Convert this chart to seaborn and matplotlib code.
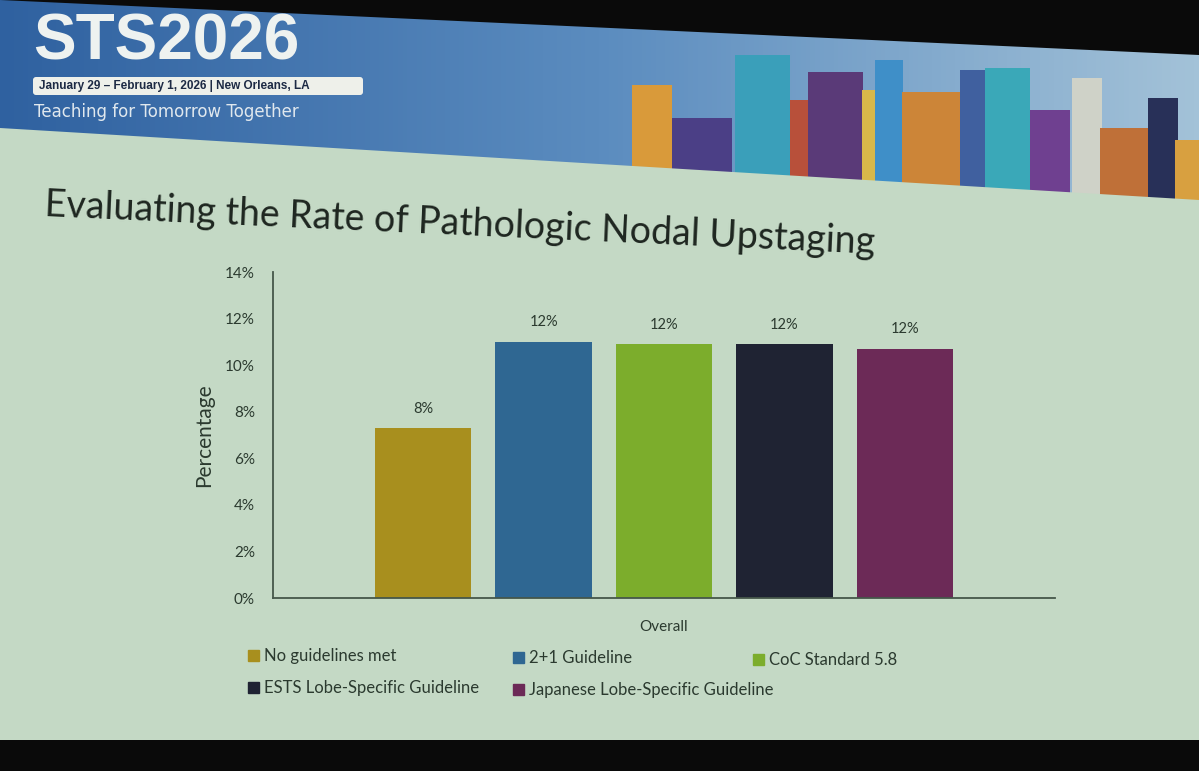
import matplotlib
matplotlib.use("Agg")
import matplotlib.pyplot as plt
import matplotlib.patches as mpatches
from matplotlib.colors import LinearSegmentedColormap
import seaborn as sns
import pandas as pd
import numpy as np

# ---- chart data ----
group = ["Overall"]
guidelines = ["No guidelines met", "2+1 Guideline", "CoC Standard 5.8",
              "ESTS Lobe-Specific Guideline", "Japanese Lobe-Specific Guideline"]
upstaging_pct = [7.3, 11.0, 10.9, 10.9, 10.7]
value_labels = ["8%", "12%", "12%", "12%", "12%"]
y_ticks = [0, 2, 4, 6, 8, 10, 12, 14]

bar_colors = ["#a88f1e", "#2f6792", "#7cad2c", "#1f2333", "#6c2a57"]
SLIDE = "#c4d9c5"
INK = "#2b3a2f"
AXIS = "#45574a"

W, H = 1199, 771


def fx(x):
    return x / W


def fy(y):
    return 1 - y / H


sns.set_theme(style="white")
plt.rcParams["font.family"] = ["Lato", "DejaVu Sans"]

fig = plt.figure(figsize=(W / 100, H / 100), dpi=100, facecolor=SLIDE)

# ---- conference banner ----
BH = 205
bax = fig.add_axes([0, fy(BH), 1, BH / H])
bax.set_xlim(0, W)
bax.set_ylim(BH, 0)
bax.axis("off")
cmap = LinearSegmentedColormap.from_list("banner", ["#2f61a0", "#5b8cbf", "#a3c2d8"])
bax.imshow(np.linspace(0, 1, 256).reshape(1, -1), extent=[0, W, BH, 0],
           aspect="auto", cmap=cmap, zorder=0)

# stylised skyline
buildings = [
    (632, 40, 85, "#d99a3a"), (672, 60, 118, "#4b3f86"), (735, 55, 55, "#3a9fba"),
    (790, 30, 100, "#b8503a"), (808, 55, 72, "#5a3a78"), (862, 40, 90, "#d8b84a"),
    (875, 28, 60, "#3f8fc8"), (902, 58, 92, "#cc8538"), (960, 25, 70, "#40609f"),
    (985, 45, 68, "#3aa8b8"), (1030, 40, 110, "#6f4090"), (1072, 30, 78, "#cfd2c8"),
    (1100, 60, 128, "#bf7038"), (1148, 30, 98, "#283058"), (1175, 24, 140, "#d8a040"),
]
for bx, bw, btop, bc in buildings:
    bax.add_patch(mpatches.Rectangle((bx, btop), bw, BH - btop, fc=bc, ec="none", zorder=1))

# slide below the tilted banner edge, black above the screen edge
bax.add_patch(mpatches.Polygon([(0, 128), (W, 200), (W, BH), (0, BH)],
                               fc=SLIDE, ec="none", zorder=2))
bax.add_patch(mpatches.Polygon([(0, 0), (W, 0), (W, 55)], fc="#0a0a0a", ec="none", zorder=3))

bax.text(33, 42, "STS2026", fontsize=46, fontweight="bold", color="#eef2f0",
         family="Liberation Sans", va="center", zorder=4)
bax.add_patch(mpatches.FancyBboxPatch((33, 77), 330, 18,
                                      boxstyle="round,pad=0,rounding_size=3",
                                      fc="#eef0ea", ec="none", zorder=4))
bax.text(39, 86, "January 29 – February 1, 2026 | New Orleans, LA", fontsize=8.5,
         fontweight="bold", color="#1d2a44", va="center", family="Liberation Sans", zorder=5)
bax.text(34, 112, "Teaching for Tomorrow Together", fontsize=12, color="#e0e8ee",
         va="center", family="DejaVu Sans", zorder=4)

# ---- slide title ----
fig.text(fx(45), fy(205), "Evaluating the Rate of Pathologic Nodal Upstaging",
         fontsize=27, color="#1e2620", rotation=-2.6, rotation_mode="anchor",
         ha="left", va="center")

# ---- bar chart ----
ax = fig.add_axes([fx(273), fy(598), fx(1055) - fx(273), (598 - 272) / H])
ax.set_facecolor(SLIDE)

df = pd.DataFrame({
    "group": group * len(guidelines),
    "guideline": guidelines,
    "pct": upstaging_pct,
})
sns.barplot(data=df, x="group", y="pct", hue="guideline", hue_order=guidelines,
            palette=dict(zip(guidelines, bar_colors)), saturation=1,
            width=0.77, gap=0.2, linewidth=0, edgecolor="none",
            legend=False, ax=ax)

for cont, lbl in zip(ax.containers, value_labels):
    ax.bar_label(cont, labels=[lbl], padding=9, fontsize=10.5, color=INK)

ax.set_ylim(0, 14)
ax.set_yticks(y_ticks)
ax.set_yticklabels([f"{t}%" for t in y_ticks])
ax.set_xlabel("")
ax.set_ylabel("Percentage", fontsize=15, color=INK, labelpad=8)
ax.tick_params(axis="y", length=0, pad=13, labelsize=11, labelcolor=INK)
ax.tick_params(axis="x", length=0, pad=16, labelsize=11, labelcolor=INK)
sns.despine(ax=ax)
for side in ("left", "bottom"):
    ax.spines[side].set_color(AXIS)
    ax.spines[side].set_linewidth(1.3)

# ---- legend, laid out as on the slide ----
legend_pos = [(248, 656), (513, 658), (753, 660), (248, 688), (513, 690)]
for name, col, (lx, ly) in zip(guidelines, bar_colors, legend_pos):
    fig.legend(handles=[mpatches.Patch(color=col, label=name)], loc="center left",
               bbox_to_anchor=(fx(lx), fy(ly)), frameon=False, fontsize=12,
               labelcolor=INK, handlelength=0.65, handleheight=0.65,
               handletextpad=0.3, borderpad=0, borderaxespad=0)

# screen bottom edge
fig.patches.append(mpatches.Rectangle((0, 0), 1, 31 / H, transform=fig.transFigure,
                                      fc="#0a0a0a", ec="none", zorder=0))

fig.savefig("out.png", dpi=100, facecolor=fig.get_facecolor())
